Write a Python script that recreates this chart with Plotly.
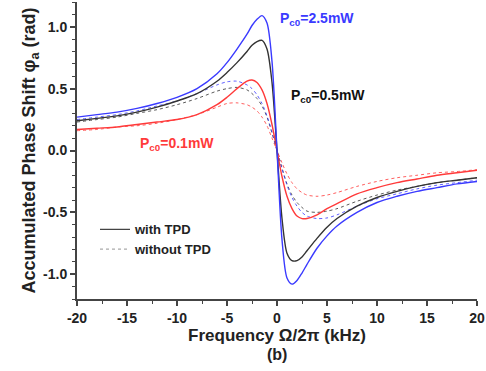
import plotly.graph_objects as go

freq = [-20, -18, -16, -14, -12, -10, -8, -6, -5, -4, -3, -2.5, -2, -1.5, -1, -0.5, 0,
        0.5, 1, 1.5, 2, 2.5, 3, 4, 5, 6, 8, 10, 12, 14, 16, 18, 20]

# with TPD
blue_tpd = [0.27, 0.29, 0.31, 0.34, 0.38, 0.43, 0.50, 0.62, 0.71, 0.82, 0.94, 1.01, 1.06, 1.09, 1.03, 0.72, 0.0,
            -0.72, -1.03, -1.08, -1.05, -0.99, -0.92, -0.79, -0.69, -0.61, -0.50, -0.42, -0.37, -0.33, -0.30, -0.27, -0.25]
black_tpd = [0.24, 0.26, 0.28, 0.31, 0.35, 0.40, 0.46, 0.56, 0.63, 0.71, 0.80, 0.85, 0.88, 0.89, 0.82, 0.55, 0.0,
             -0.55, -0.83, -0.89, -0.89, -0.86, -0.81, -0.71, -0.62, -0.55, -0.45, -0.38, -0.33, -0.29, -0.26, -0.24, -0.22]
red_tpd = [0.17, 0.18, 0.19, 0.21, 0.23, 0.25, 0.29, 0.37, 0.43, 0.50, 0.56, 0.57, 0.55, 0.49, 0.38, 0.21, 0.0,
           -0.21, -0.37, -0.47, -0.53, -0.55, -0.55, -0.52, -0.47, -0.43, -0.35, -0.30, -0.26, -0.23, -0.20, -0.18, -0.16]

# without TPD
blue_no = [0.25, 0.27, 0.29, 0.32, 0.36, 0.40, 0.46, 0.53, 0.555, 0.56, 0.53, 0.50, 0.45, 0.38, 0.28, 0.15, 0.0,
           -0.15, -0.28, -0.38, -0.45, -0.50, -0.53, -0.55, -0.545, -0.52, -0.45, -0.39, -0.35, -0.31, -0.28, -0.26, -0.24]
black_no = [0.23, 0.25, 0.27, 0.30, 0.33, 0.37, 0.42, 0.48, 0.50, 0.51, 0.49, 0.46, 0.42, 0.36, 0.27, 0.14, 0.0,
            -0.14, -0.27, -0.36, -0.42, -0.46, -0.49, -0.50, -0.49, -0.47, -0.41, -0.36, -0.32, -0.29, -0.26, -0.24, -0.22]
red_no = [0.16, 0.17, 0.19, 0.20, 0.22, 0.25, 0.29, 0.35, 0.38, 0.385, 0.37, 0.35, 0.32, 0.27, 0.20, 0.10, 0.0,
          -0.10, -0.19, -0.26, -0.31, -0.34, -0.36, -0.37, -0.36, -0.34, -0.29, -0.25, -0.22, -0.20, -0.18, -0.17, -0.155]

x_ticks = [-20, -15, -10, -5, 0, 5, 10, 15, 20]
y_ticks = [-1.0, -0.5, 0.0, 0.5, 1.0]

BLUE = "#3a3aff"
BLACK = "#333333"
RED = "#ff3a3a"
FONT = "Liberation Sans, Arial, sans-serif"

fig = go.Figure()

for ys, c in [(red_no, RED), (black_no, BLACK), (blue_no, BLUE)]:
    fig.add_trace(go.Scatter(x=freq, y=ys, mode="lines", line=dict(color=c, width=1, dash="dot", shape="spline", smoothing=0.8),
                             opacity=0.8, showlegend=False))
for ys, c in [(red_tpd, RED), (black_tpd, BLACK), (blue_tpd, BLUE)]:
    fig.add_trace(go.Scatter(x=freq, y=ys, mode="lines", line=dict(color=c, width=1.4, shape="spline", smoothing=0.8),
                             showlegend=False))

fig.add_trace(go.Scatter(x=[None], y=[None], mode="lines", name="with TPD", line=dict(color="#444444", width=1.2)))
fig.add_trace(go.Scatter(x=[None], y=[None], mode="lines", name="without TPD", line=dict(color="#aaaaaa", width=1.2, dash="dot")))

annots = [
    dict(x=0.1, y=1.065, text="P<sub>c0</sub>=2.5mW", color=BLUE),
    dict(x=1.2, y=0.44, text="P<sub>c0</sub>=0.5mW", color="#111111"),
    dict(x=-13.9, y=0.05, text="P<sub>c0</sub>=0.1mW", color=RED),
]
for a in annots:
    fig.add_annotation(x=a["x"], y=a["y"], text="<b>" + a["text"] + "</b>", showarrow=False,
                       xanchor="left", yanchor="middle", font=dict(family=FONT, size=14, color=a["color"]))

fig.add_annotation(xref="paper", yref="paper", x=0.5, y=-0.186, text="<b>(b)</b>", showarrow=False,
                   xanchor="center", yanchor="middle", font=dict(family=FONT, size=16, color="#222222"))

axis_common = dict(showline=True, linecolor="#444444", linewidth=2, ticks="outside", ticklen=5, tickwidth=1.5,
                   tickcolor="#444444", showgrid=False, zeroline=False, mirror=False,
                   tickfont=dict(family=FONT, size=14, color="#222222", weight="bold"))

fig.update_xaxes(range=[-20, 20], tickvals=x_ticks, ticktext=["<b>%d</b>" % v for v in x_ticks],
                 minor=dict(ticks="outside", ticklen=3, dtick=2.5, tickcolor="#444444", tickwidth=1.2),
                 title=dict(text="<b>Frequency Ω/2π (kHz)</b>", font=dict(family=FONT, size=17, color="#222222"), standoff=2),
                 **axis_common)
fig.update_yaxes(range=[-1.2, 1.2], tickvals=y_ticks, ticktext=["<b>%.1f</b>" % v for v in y_ticks],
                 minor=dict(ticks="outside", ticklen=3, dtick=0.1, tick0=0, tickcolor="#444444", tickwidth=1.2),
                 title=dict(text="<b>Accumulated Phase Shift φ<sub>a</sub> (rad)</b>", font=dict(family=FONT, size=18, color="#222222"), standoff=3),
                 **axis_common)

fig.update_layout(width=486, height=371, margin=dict(l=77, r=9, t=2, b=72),
                  plot_bgcolor="white", paper_bgcolor="white",
                  legend=dict(x=0.045, y=0.285, xanchor="left", yanchor="top", bgcolor="rgba(0,0,0,0)",
                              font=dict(family=FONT, size=13, color="#222222", weight="bold"), tracegroupgap=0, itemwidth=30))

fig.write_html("out.html")
